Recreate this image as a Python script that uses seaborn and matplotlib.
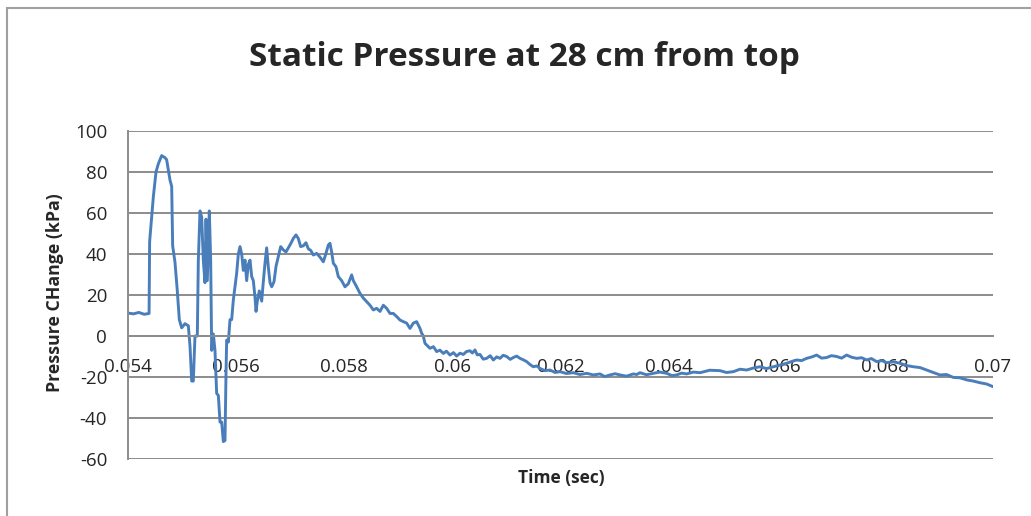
import numpy as np
import pandas as pd
import matplotlib
matplotlib.use("Agg")
import matplotlib.pyplot as plt
from matplotlib.patches import Rectangle
import seaborn as sns

# time (s) and pressure change (kPa)
time_s = [
    0.054000, 0.054100, 0.054200, 0.054300, 0.054390,
    0.054400, 0.054438, 0.054469, 0.054518, 0.054561, 0.054623, 0.054684,
    0.054715, 0.054746, 0.054777, 0.054808, 0.054826, 0.054869, 0.054912,
    0.054949, 0.054993, 0.055054, 0.055116, 0.055147, 0.055178, 0.055208,
    0.055239, 0.055282, 0.055301, 0.055332, 0.055363, 0.055393, 0.055424,
    0.055443, 0.055467, 0.055504, 0.055529, 0.055548, 0.055578, 0.055609,
    0.055640, 0.055671, 0.055702, 0.055733, 0.055763, 0.055794, 0.055813,
    0.055825, 0.055856, 0.055887, 0.055918, 0.055948, 0.055979, 0.056010,
    0.056041, 0.056072, 0.056103, 0.056133, 0.056164, 0.056195, 0.056226,
    0.056257, 0.056288, 0.056318, 0.056349, 0.056368, 0.056392, 0.056429,
    0.056473, 0.056503, 0.056534, 0.056565, 0.056596, 0.056627, 0.056658,
    0.056701, 0.056738, 0.056781, 0.056824, 0.056873, 0.056922, 0.056966,
    0.057009, 0.057058, 0.057107, 0.057150, 0.057194, 0.057243, 0.057292,
    0.057336, 0.057379, 0.057428, 0.057490, 0.057551, 0.057613, 0.057662,
    0.057706, 0.057736, 0.057767, 0.057798, 0.057847, 0.057890, 0.057952,
    0.058014, 0.058075, 0.058137, 0.058168, 0.058230, 0.058291, 0.058353,
    0.058415, 0.058476, 0.058538, 0.058599, 0.058661, 0.058723, 0.058784,
    0.058846, 0.058908, 0.058969, 0.059031, 0.059093, 0.059154, 0.059216,
    0.059278, 0.059339, 0.059401, 0.059432, 0.059460, 0.059494, 0.059540,
    0.059586, 0.059650, 0.059709, 0.059770, 0.059833, 0.059890, 0.059956,
    0.060020, 0.060079, 0.060140, 0.060203, 0.060260, 0.060326, 0.060370,
    0.060418, 0.060460, 0.060511, 0.060570, 0.060634, 0.060700, 0.060757,
    0.060820, 0.060881, 0.060940, 0.061004, 0.061070, 0.061127, 0.061190,
    0.061251, 0.061310, 0.061374, 0.061430, 0.061497, 0.061560, 0.061621,
    0.061710, 0.061806, 0.061900, 0.061991, 0.062110, 0.062237, 0.062360,
    0.062484, 0.062610, 0.062730, 0.062820, 0.062915, 0.063010, 0.063100,
    0.063220, 0.063347, 0.063410, 0.063470, 0.063590, 0.063717, 0.063840,
    0.063964, 0.064060, 0.064148, 0.064240, 0.064333, 0.064460, 0.064580,
    0.064760, 0.064950, 0.065070, 0.065197, 0.065320, 0.065443, 0.065570,
    0.065690, 0.065810, 0.065937, 0.066060, 0.066183, 0.066280, 0.066368,
    0.066460, 0.066553, 0.066650, 0.066738, 0.066830, 0.066923, 0.067010,
    0.067108, 0.067200, 0.067293, 0.067390, 0.067478, 0.067570, 0.067663,
    0.067750, 0.067848, 0.067940, 0.068033, 0.068160, 0.068279, 0.068400,
    0.068526, 0.068650, 0.068773, 0.068900, 0.069019, 0.069140, 0.069266,
    0.069390, 0.069513, 0.069640, 0.069759, 0.069880, 0.070000,
]
pressure_kpa = [
    11.2, 10.8, 11.5, 10.6, 11.0,
    46.0, 58.0, 68.0, 80.0, 84.0, 88.0, 87.0,
    86.0, 81.0, 76.0, 73.0, 44.0, 36.0, 22.0,
    8.0, 4.0, 6.0, 5.0, -5.0, -22.0, -22.0,
    0.0, 0.0, 37.0, 61.0, 58.0, 37.0, 26.0,
    57.0, 27.0, 61.0, 37.0, -7.0, 1.0, -7.0,
    -28.0, -29.0, -42.0, -42.0, -51.5, -51.0, -18.0,
    -2.0, -3.0, 8.0, 8.0, 17.5, 24.0, 30.6,
    40.0, 43.6, 40.0, 32.0, 37.0, 27.0, 35.0,
    37.0, 29.0, 27.0, 19.0, 12.0, 17.0, 22.0,
    17.0, 26.5, 35.5, 43.0, 33.5, 26.0, 24.0,
    26.5, 34.0, 38.7, 43.6, 42.0, 41.0, 43.0,
    45.0, 47.6, 49.3, 47.6, 43.6, 44.0, 45.5,
    42.5, 41.8, 39.5, 40.3, 38.5, 36.2, 40.3,
    44.4, 45.2, 41.0, 35.5, 33.8, 29.0, 27.0,
    24.0, 25.5, 29.8, 27.0, 24.0, 20.8, 18.5,
    16.7, 15.0, 12.7, 13.5, 12.0, 15.0, 13.5,
    11.0, 11.0, 9.5, 7.8, 7.0, 6.3, 3.7,
    6.3, 7.0, 3.7, 1.3, 0.2, -3.6, -4.8,
    -6.0, -5.2, -7.6, -6.9, -8.5, -7.4, -9.3,
    -8.1, -9.8, -8.4, -9.0, -7.6, -7.2, -8.3,
    -6.8, -9.2, -9.0, -11.3, -10.9, -9.6, -11.7,
    -10.2, -10.9, -9.4, -10.0, -11.4, -10.5, -9.8,
    -10.9, -11.6, -12.5, -13.8, -15.0, -14.6, -15.8,
    -16.9, -16.6, -17.8, -17.4, -18.3, -17.9, -18.8,
    -18.2, -19.0, -18.5, -19.8, -19.0, -18.4, -19.0,
    -19.6, -18.5, -18.8, -17.9, -18.9, -18.2, -17.6,
    -18.2, -19.3, -19.0, -18.1, -18.5, -17.6, -17.9,
    -16.7, -16.9, -17.8, -17.4, -16.2, -16.6, -15.6,
    -15.0, -15.9, -15.0, -14.2, -13.3, -12.4, -11.7,
    -12.0, -10.9, -10.2, -9.3, -10.8, -10.5, -9.6,
    -10.0, -10.8, -9.3, -10.4, -10.9, -10.6, -11.7,
    -11.0, -12.5, -12.0, -13.0, -12.6, -13.3, -14.4,
    -15.0, -15.4, -16.6, -17.8, -19.0, -18.8, -20.2,
    -20.4, -21.4, -22.0, -22.8, -23.4, -24.7,
]

x_ticks = [0.054, 0.056, 0.058, 0.06, 0.062, 0.064, 0.066, 0.068, 0.07]
x_tick_labels = ["0.054", "0.056", "0.058", "0.06", "0.062", "0.064", "0.066", "0.068", "0.07"]
y_ticks = [-60, -40, -20, 0, 20, 40, 60, 80, 100]

sns.set_style("white")
plt.rcParams["font.family"] = ["Open Sans", "DejaVu Sans"]

W, H = 1031, 516
fig = plt.figure(figsize=(W / 100, H / 100), dpi=100)
ax = fig.add_axes([128 / W, 1 - 459 / H, 865 / W, 328 / H])

df = pd.DataFrame({"t": time_s, "p": pressure_kpa})
sns.lineplot(data=df, x="t", y="p", ax=ax, sort=False, estimator=None,
             color="#4a7ebb", linewidth=2.1)

grid_c = "#8c8c8c"
ax.set_xlim(0.054, 0.070)
ax.set_ylim(-60, 100)
ax.set_yticks(y_ticks)
ax.set_yticklabels([str(v) for v in y_ticks])
ax.set_xticks(x_ticks)
ax.set_xticklabels(x_tick_labels)
ax.yaxis.grid(True, color=grid_c, linewidth=1.4)
ax.xaxis.grid(False)
ax.set_axisbelow(True)

for s in ["top", "right"]:
    ax.spines[s].set_visible(False)
ax.spines["left"].set_color(grid_c)
ax.spines["left"].set_linewidth(1.4)
ax.spines["bottom"].set_position(("data", 0))
ax.spines["bottom"].set_color(grid_c)
ax.spines["bottom"].set_linewidth(1.4)

ax.tick_params(axis="y", length=3, width=1.2, color=grid_c, pad=12, labelsize=13.5)
ax.tick_params(axis="x", length=0, pad=16, labelsize=13.5)
ax.set_xlabel("")
ax.set_ylabel("")

fig.text(524 / W, 1 - 58 / H, "Static Pressure at 28 cm from top",
         ha="center", va="center", fontsize=24, fontweight="bold")
fig.text(55 / W, 1 - 293 / H, "Pressure CHange (kPa)", rotation=90,
         ha="center", va="center", fontsize=12.8, fontweight="bold")
fig.text(561 / W, 1 - 478 / H, "Time (sec)",
         ha="center", va="center", fontsize=12.5, fontweight="bold")

# outer chart border (cut off at the right and bottom like the source)
fig.add_artist(Rectangle((7 / W, -0.1), 1.2, (H - 8) / H + 0.1,
                         transform=fig.transFigure, fill=False,
                         edgecolor="#a0a0a0", linewidth=1.5))

fig.savefig("out.png", dpi=100)
plt.close(fig)
